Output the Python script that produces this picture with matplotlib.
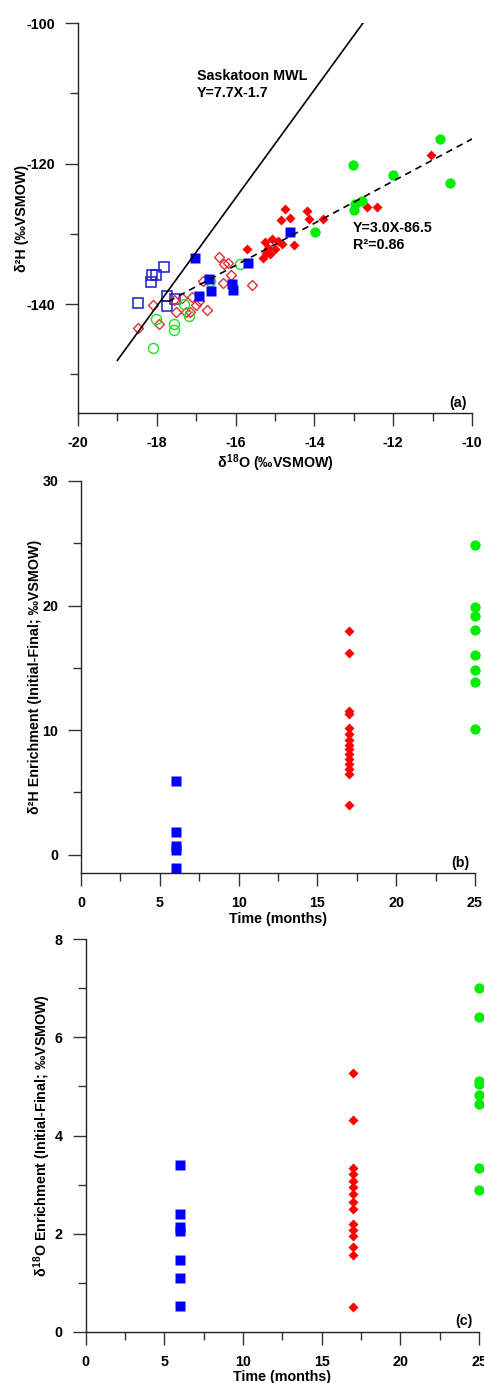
import matplotlib
matplotlib.use("Agg")
import matplotlib.pyplot as plt
from matplotlib.ticker import MultipleLocator

plt.rcParams['font.family'] = ['Liberation Sans', 'DejaVu Sans']
plt.rcParams['font.weight'] = 'bold'
plt.rcParams['axes.labelweight'] = 'bold'
plt.rcParams['axes.unicode_minus'] = False
plt.rcParams['font.size'] = 10.3
plt.rcParams['mathtext.fontset'] = 'custom'
plt.rcParams['mathtext.rm'] = 'Liberation Sans:bold'
plt.rcParams['mathtext.it'] = 'Liberation Sans:bold'
plt.rcParams['mathtext.bf'] = 'Liberation Sans:bold'

# panel (a): d18O / d2H pairs
blue_open_x = [-17.82, -18.13, -18.02, -18.15, -17.73, -17.54, -17.73, -18.48]
blue_open_y = [-134.7, -135.9, -135.9, -136.8, -138.9, -139.3, -140.3, -139.9]
blue_fill_x = [-17.03, -16.67, -16.63, -16.93, -16.09, -16.07, -15.69, -14.62]
blue_fill_y = [-133.4, -136.5, -138.1, -138.9, -137.1, -138.0, -134.2, -129.8]
green_open_x = [-18.02, -17.56, -17.56, -17.31, -17.18, -18.09, -15.89, -16.65]
green_open_y = [-142.1, -142.9, -143.7, -140.0, -141.7, -146.2, -134.3, -136.7]
green_fill_x = [-13.98, -10.80, -13.01, -12.00, -10.56, -12.97, -12.99, -12.80]
green_fill_y = [-129.8, -116.5, -120.2, -121.7, -122.7, -125.8, -126.6, -125.3]
red_open_x = [-16.41, -16.29, -16.19, -16.12, -16.31, -15.59, -16.82, -18.10, -17.94,
              -18.48, -17.50, -17.26, -17.11, -17.00, -16.92, -16.73, -17.35, -17.56, -17.16]
red_open_y = [-133.3, -134.3, -134.1, -135.8, -137.0, -137.3, -136.7, -140.1, -142.8,
              -143.4, -141.1, -141.1, -139.0, -140.1, -139.6, -140.8, -139.1, -139.4, -141.1]
red_fill_x = [-14.75, -14.86, -14.62, -14.18, -14.14, -13.77, -14.53, -15.72, -15.25, -15.08,
              -14.92, -15.17, -15.00, -15.13, -15.30, -14.83, -15.23, -11.04, -12.67, -12.42, -12.84]
red_fill_y = [-126.5, -128.0, -127.8, -126.7, -127.9, -127.9, -131.6, -132.1, -131.2, -130.8,
              -131.0, -132.0, -132.2, -132.9, -133.4, -131.5, -132.7, -118.8, -126.2, -126.2, -125.3]

mwl_x = [-19.0, -12.77]
fit_x = [-17.7, -10.0]

# panel (b): d2H enrichment
t_blue, t_red, t_green = 6, 17, 25
dh_blue = [5.9, 1.8, 0.7, 0.35, -1.1]
dh_red = [17.95, 16.2, 11.5, 11.3, 10.2, 9.7, 9.2, 8.8, 8.5, 8.1, 7.7, 7.3, 6.9, 6.5, 4.0]
dh_green = [24.9, 19.85, 19.2, 18.0, 16.0, 14.8, 13.9, 10.1]

# panel (c): d18O enrichment
do_blue = [3.40, 2.40, 2.14, 2.06, 1.46, 1.09, 0.53]
do_red = [5.27, 4.32, 3.33, 3.22, 3.08, 2.95, 2.8, 2.65, 2.5, 2.2, 2.08, 1.95, 1.72, 1.57, 0.5]
do_green = [7.0, 6.41, 5.12, 5.05, 4.83, 4.64, 3.33, 2.88]

W, H = 484, 1383
fig = plt.figure(figsize=(W / 100, H / 100), dpi=100)
ax1 = fig.add_axes([78 / W, 1 - 413 / H, 394 / W, 390 / H])
ax2 = fig.add_axes([81 / W, 1 - 873.3 / H, 394 / W, 392.3 / H])
ax3 = fig.add_axes([85.7 / W, 1 - 1331.7 / H, 393.3 / W, 392.4 / H])


def style(ax):
    for s in ['top', 'right']:
        ax.spines[s].set_visible(False)
    for s in ['left', 'bottom']:
        ax.spines[s].set_linewidth(1.0)
        ax.spines[s].set_color('#222222')
    ax.tick_params(which='major', direction='out', length=9.5, width=1.0, pad=7, color='#333333')
    ax.tick_params(which='minor', direction='out', length=5.5, width=1.0, color='#333333')


# (a)
style(ax1)
ax1.plot(blue_open_x, blue_open_y, 's', ms=6.7, mfc='none', mec='#1a1ad0', mew=1.1, ls='none')
ax1.plot(red_open_x, red_open_y, 'D', ms=4.6, mfc='none', mec='#e03030', mew=1.0, ls='none')
ax1.plot(green_open_x, green_open_y, 'o', ms=7.2, mfc='none', mec='#22dd22', mew=1.0, ls='none')
ax1.plot(red_fill_x, red_fill_y, 'D', ms=5.0, color='#ff0000', mec='none', ls='none')
ax1.plot(blue_fill_x, blue_fill_y, 's', ms=7.2, color='#0000ff', mec='none', ls='none')
ax1.plot(green_fill_x, green_fill_y, 'o', ms=7.4, color='#00ee00', mec='none', ls='none')
ax1.plot(mwl_x, [7.7 * x - 1.7 for x in mwl_x], color='black', lw=1.2)
ax1.plot(fit_x, [3.0 * x - 86.5 for x in fit_x], color='black', lw=1.2, dashes=(4, 3))
ax1.text(-16.98, -107.5, 'Saskatoon MWL', va='center', ha='left')
ax1.text(-16.98, -109.95, 'Y=7.7X-1.7', va='center', ha='left')
ax1.text(-13.03, -129.2, 'Y=3.0X-86.5', va='center', ha='left')
ax1.text(-13.03, -131.6, 'R²=0.86', va='center', ha='left')
ax1.text(0.987, 0.026, '(a)', transform=ax1.transAxes, ha='right', va='center')
ax1.set_xlim(-20, -10)
ax1.set_ylim(-155.5, -100)
ax1.xaxis.set_major_locator(MultipleLocator(2))
ax1.xaxis.set_minor_locator(MultipleLocator(1))
ax1.yaxis.set_major_locator(MultipleLocator(20))
ax1.yaxis.set_minor_locator(MultipleLocator(10))
ax1.set_xlabel(r'$\delta^{18}$O (‰VSMOW)', labelpad=2)
ax1.set_ylabel('δ²H (‰VSMOW)')
ax1.yaxis.set_label_coords(-0.124, 0.5)

# (b)
style(ax2)
ax2.plot([t_blue] * len(dh_blue), dh_blue, 's', ms=7.4, color='#0000ff', mec='none', ls='none', clip_on=False)
ax2.plot([t_red] * len(dh_red), dh_red, 'D', ms=5.0, color='#ff0000', mec='none', ls='none', clip_on=False)
ax2.plot([t_green] * len(dh_green), dh_green, 'o', ms=7.4, color='#00ee00', mec='none', ls='none', clip_on=False)
ax2.text(0.987, 0.027, '(b)', transform=ax2.transAxes, ha='right', va='center')
ax2.set_xlim(0, 25)
ax2.set_ylim(-1.5, 30)
ax2.xaxis.set_major_locator(MultipleLocator(5))
ax2.xaxis.set_minor_locator(MultipleLocator(2.5))
ax2.yaxis.set_major_locator(MultipleLocator(10))
ax2.yaxis.set_minor_locator(MultipleLocator(5))
ax2.set_xlabel('Time (months)', labelpad=1)
ax2.set_ylabel('δ²H Enrichment (Initial-Final; ‰VSMOW)')
ax2.yaxis.set_label_coords(-0.099, 0.5)

# (c)
style(ax3)
ax3.plot([t_blue] * len(do_blue), do_blue, 's', ms=7.4, color='#0000ff', mec='none', ls='none', clip_on=False)
ax3.plot([t_red] * len(do_red), do_red, 'D', ms=5.0, color='#ff0000', mec='none', ls='none', clip_on=False)
ax3.plot([t_green] * len(do_green), do_green, 'o', ms=7.4, color='#00ee00', mec='none', ls='none', clip_on=False)
ax3.text(0.985, 0.028, '(c)', transform=ax3.transAxes, ha='right', va='center')
ax3.set_xlim(0, 25)
ax3.set_ylim(0, 8)
ax3.xaxis.set_major_locator(MultipleLocator(5))
ax3.xaxis.set_minor_locator(MultipleLocator(2.5))
ax3.yaxis.set_major_locator(MultipleLocator(2))
ax3.yaxis.set_minor_locator(MultipleLocator(1))
ax3.set_xlabel('Time (months)', labelpad=1)
ax3.set_ylabel(r'$\delta^{18}$O Enrichment (Initial-Final; ‰VSMOW)')
ax3.yaxis.set_label_coords(-0.082, 0.5)

fig.savefig('out.png', dpi=100)
